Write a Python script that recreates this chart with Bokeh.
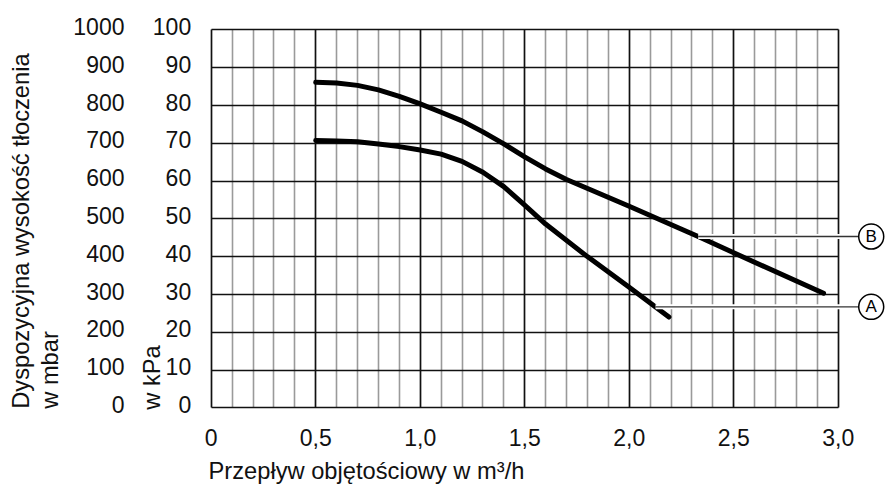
import numpy as np
from bokeh.plotting import figure
from bokeh.models import Range1d, LinearAxis, FixedTicker, Grid, Label, ColumnDataSource
from bokeh.embed import file_html
from bokeh.resources import INLINE
from bokeh.core.properties import value

# ---- data ----
x_ticks = [0, 0.5, 1.0, 1.5, 2.0, 2.5, 3.0]
x_tick_labels = ["0", "0,5", "1,0", "1,5", "2,0", "2,5", "3,0"]
x_minor_ticks = [round(i * 0.1, 1) for i in range(31) if i % 5 != 0]
kpa_ticks = [0, 10, 20, 30, 40, 50, 60, 70, 80, 90, 100]
mbar_ticks = [0, 100, 200, 300, 400, 500, 600, 700, 800, 900, 1000]

curve_a_x = [0.5, 0.6, 0.7, 0.8, 0.9, 1.0, 1.1, 1.2, 1.3, 1.4, 1.5, 1.6, 1.8, 2.0, 2.19]
curve_a_y = [70.7, 70.6, 70.4, 69.8, 69.1, 68.2, 67.1, 65.2, 62.3, 58.5, 53.6, 48.6, 40.0, 31.9, 24.0]
curve_b_x = [0.5, 0.6, 0.7, 0.8, 0.9, 1.0, 1.1, 1.2, 1.3, 1.4, 1.5, 1.6, 1.7, 2.0, 2.33, 2.5, 2.93]
curve_b_y = [86.1, 85.9, 85.3, 84.1, 82.4, 80.4, 78.2, 75.9, 73.0, 69.8, 66.4, 63.2, 60.4, 53.3, 45.3, 41.0, 30.3]

marker_names = ["A", "B"]
marker_y = [26.7, 45.3]
leader_start_x = [2.126, 2.33]
marker_x = [3.158, 3.158]

y_title_1 = "Dyspozycyjna wysokość tłoczenia"
y_title_2 = "w mbar"
y_title_kpa = "w kPa"
x_title = "Przepływ objętościowy w m³/h"

FONT = "Liberation Sans"
FS = "23px"
FS_TITLE = "23.7px"

W, H = 885, 491
X0PX, XSCALE = 210.7, 209.0      # px of x=0, px per m3/h
Y0PX, YSCALE = 407.3, 3.78       # px of y=0 kPa, px per kPa
LBL_SHIFT = 3.3                  # tick labels sit slightly above their grid line

x_start = -X0PX / XSCALE
x_end = (W - X0PX) / XSCALE
y_start = -(H - Y0PX) / YSCALE
y_end = Y0PX / YSCALE

p = figure(width=W, height=H, output_backend="svg", toolbar_location=None,
           title_location=None,
           x_range=Range1d(x_start, x_end), y_range=Range1d(y_start, y_end),
           min_border=0, min_border_left=0, min_border_right=0, min_border_top=0, min_border_bottom=0)
p.outline_line_color = None
p.background_fill_color = "white"
p.border_fill_color = "white"
p.xgrid.visible = False
p.ygrid.visible = False

# grids
minor = Grid(dimension=0, ticker=FixedTicker(ticks=x_minor_ticks), bounds=(0, 3), cross_bounds=(0, 100),
             grid_line_color="#9a9a9a", grid_line_width=1.6)
xmaj = Grid(dimension=0, ticker=FixedTicker(ticks=x_ticks), bounds=(0, 3), cross_bounds=(0, 100),
            grid_line_color="#111111", grid_line_width=1.7)
ymaj = Grid(dimension=1, ticker=FixedTicker(ticks=kpa_ticks), bounds=(0, 100), cross_bounds=(0, 3),
            grid_line_color="#111111", grid_line_width=1.7)
p.add_layout(minor)
p.add_layout(ymaj)
p.add_layout(xmaj)

# axes
def style_axis(ax, standoff):
    ax.axis_line_color = None
    ax.major_tick_line_color = None
    ax.minor_tick_line_color = None
    ax.major_tick_in = 0
    ax.major_tick_out = 0
    ax.major_label_standoff = standoff
    ax.major_label_text_font = FONT
    ax.major_label_text_font_size = FS
    ax.major_label_text_color = "#111111"

xa = p.xaxis[0]
xa.ticker = FixedTicker(ticks=x_ticks)
xa.major_label_overrides = {float(t): l for t, l in zip(x_ticks, x_tick_labels)}
xa.fixed_location = 0
style_axis(xa, 21)

shift = LBL_SHIFT / YSCALE
p.extra_y_ranges = {
    "kpa_lbl": Range1d(y_start - shift, y_end - shift),
    "mbar": Range1d((y_start - shift) * 10, (y_end - shift) * 10),
}
ya = p.yaxis[0]
ya.y_range_name = "kpa_lbl"
ya.ticker = FixedTicker(ticks=kpa_ticks)
ya.fixed_location = 0
style_axis(ya, 20)

ym = LinearAxis(y_range_name="mbar", ticker=FixedTicker(ticks=mbar_ticks))
ym.fixed_location = (144 - X0PX) / XSCALE
style_axis(ym, 20)
p.add_layout(ym, "left")

# curves
p.line(curve_a_x, curve_a_y, line_color="black", line_width=5, line_cap="round", line_join="round")
p.line(curve_b_x, curve_b_y, line_color="black", line_width=5, line_cap="round", line_join="round")

# leaders
src = ColumnDataSource(dict(x0=leader_start_x, x1=marker_x, y=marker_y, name=marker_names))
p.segment(x0="x0", y0="y", x1="x1", y1="y", source=src, line_color="white", line_width=5)
p.segment(x0="x0", y0="y", x1="x1", y1="y", source=src, line_color="#333333", line_width=1.4)
p.scatter(x="x1", y="y", source=src, size=25, marker="circle", fill_color="white",
          line_color="black", line_width=1.5)
p.text(x="x1", y="y", text="name", source=src, text_align="center", text_baseline="middle",
       text_font=value(FONT), text_font_size="17px", text_color="black")

# titles
def px2x(px):
    return (px - X0PX) / XSCALE

def py2y(py):
    return (Y0PX - py) / YSCALE

lab_kw = dict(x_units="data", y_units="data", text_font=FONT, text_font_size=FS_TITLE,
              text_color="#111111", text_baseline="alphabetic", text_align="left")
p.add_layout(Label(x=px2x(20), y=py2y(408.3), text=y_title_1, angle=np.pi / 2, **lab_kw))
p.add_layout(Label(x=px2x(49), y=py2y(408.3), text=y_title_2, angle=np.pi / 2, **lab_kw))
p.add_layout(Label(x=px2x(151.5), y=py2y(409.3), text=y_title_kpa, angle=np.pi / 2, **lab_kw))
p.add_layout(Label(x=px2x(208), y=py2y(470), text=x_title, **lab_kw))

open("out.html", "w").write(file_html(p, INLINE))
